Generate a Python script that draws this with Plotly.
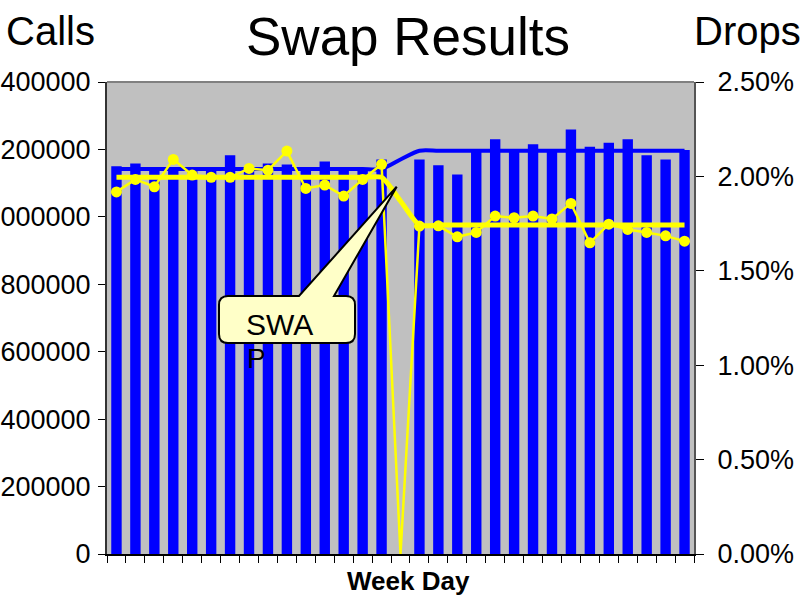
import plotly.graph_objects as go

# ---- data ----
days = [str(i) for i in range(1, 32)]
calls = [1150000, 1158000, 1142000, 1142000, 1142000, 1142000, 1183000, 1142000,
         1158000, 1155000, 1140000, 1164000, 1142000, 1142000, 1170000, 0,
         1170000, 1153000, 1126000, 1198000, 1230000, 1198000, 1215000, 1198000,
         1259000, 1208000, 1220000, 1230000, 1183000, 1170000, 1198000]
calls_avg = [1142000] * 15 + [1170000] + [1196000] * 15
drops_pct = [1.918, 1.984, 1.945, 2.090, 2.007, 1.995, 1.995, 2.042, 2.033, 2.134,
             1.936, 1.954, 1.896, 1.984, 2.064, 0.0, 1.737, 1.738, 1.680, 1.703,
             1.790, 1.781, 1.790, 1.775, 1.857, 1.648, 1.747, 1.719, 1.703, 1.685, 1.657]
drops_avg_pct = [1.995] * 15 + [1.87] + [1.742] * 15
left_ticks = [0, 200000, 400000, 600000, 800000, 1000000, 1200000, 1400000]
right_ticks = [0, 0.005, 0.010, 0.015, 0.020, 0.025]

drops = [v / 100 for v in drops_pct]
drops_avg = [v / 100 for v in drops_avg_pct]
marker_sizes = [0 if v == 0 else 11 for v in drops_pct]

W, H = 808, 596
L, R, T, B = 107, 114, 82, 42
PW, PH = W - L - R, H - T - B

def px(x):
    return (x - L) / PW

def py(y):
    return (H - B - y) / PH

FONT = "Arial, Liberation Sans, sans-serif"

fig = go.Figure()
fig.add_trace(go.Bar(x=days, y=calls, marker=dict(color="#0000FF", line=dict(width=0)),
                     yaxis="y", name="Calls"))
fig.add_trace(go.Scatter(x=days, y=calls_avg, mode="lines", yaxis="y",
                         line=dict(color="#0000FF", width=4, shape="spline", smoothing=0.8)))
fig.add_trace(go.Scatter(x=days, y=drops_avg, mode="lines", yaxis="y2",
                         line=dict(color="#FFFF00", width=5, shape="spline", smoothing=0.6)))
fig.add_trace(go.Scatter(x=days, y=drops, mode="lines+markers", yaxis="y2", opacity=1,
                         line=dict(color="#FFFF00", width=2.5),
                         marker=dict(color="#FFFF00", size=marker_sizes, opacity=1,
                                     line=dict(width=0, color="#FFFF00"))))

# callout shape
x0, x1, y0, y1, r = 219, 355, 296, 343, 9
bl, br = 299, 334
tip = (396.7, 186.7)

def P(x, y):
    return f"{px(x):.5f},{py(y):.5f}"

path = (f"M {P(x0 + r, y0)} L {P(bl, y0)} L {P(*tip)} L {P(br, y0)} L {P(x1 - r, y0)} "
        f"Q {P(x1, y0)} {P(x1, y0 + r)} L {P(x1, y1 - r)} Q {P(x1, y1)} {P(x1 - r, y1)} "
        f"L {P(x0 + r, y1)} Q {P(x0, y1)} {P(x0, y1 - r)} L {P(x0, y0 + r)} "
        f"Q {P(x0, y0)} {P(x0 + r, y0)} Z")
fig.add_shape(type="path", path=path, xref="paper", yref="paper",
              fillcolor="#FFFFC8", line=dict(color="black", width=2), layer="above")
# top border of plot area
fig.add_shape(type="line", xref="paper", yref="paper", x0=0, x1=1, y0=1, y1=1,
              line=dict(color="#808080", width=2))

annos = [
    dict(text="Swap Results", x=px(408), y=py(37), font=dict(size=53)),
    dict(text="Calls", x=px(4), y=py(31), xanchor="left", font=dict(size=40)),
    dict(text="Drops", x=px(692), y=py(31), xanchor="left", font=dict(size=40)),
    dict(text="<b>Week Day</b>", x=px(408), y=py(581), font=dict(size=26)),
    dict(text="SWA", x=px(244), y=py(324), xanchor="left", font=dict(size=30)),
    dict(text="P", x=px(245), y=py(358), xanchor="left", font=dict(size=28)),
]
for a in annos:
    a.setdefault("xanchor", "center")
    a["yanchor"] = "middle"
    a["xref"] = "paper"
    a["yref"] = "paper"
    a["showarrow"] = False
    a["font"]["family"] = FONT
    a["font"]["color"] = "black"
    fig.add_annotation(**a)

fig.update_layout(
    width=W, height=H,
    margin=dict(l=L, r=R, t=T, b=B, pad=0),
    paper_bgcolor="white", plot_bgcolor="#C0C0C0",
    showlegend=False, bargap=0.45,
    font=dict(family=FONT, color="black"),
    xaxis=dict(type="category", range=[-0.5, 30.5], tickson="boundaries", ticks="outside",
               ticklen=7, tickcolor="black", tickwidth=1, showticklabels=False,
               showline=True, linecolor="black", linewidth=1.5, showgrid=False,
               zeroline=False, automargin=False),
    yaxis=dict(range=[0, 1400000], tickvals=left_ticks, tickformat="d", ticks="outside",
               ticklen=7, tickcolor="black", showline=True, linecolor="#333333",
               linewidth=2, showgrid=False, zeroline=False, automargin=False,
               ticklabelstandoff=2,
               tickfont=dict(size=27, family=FONT, color="black")),
    yaxis2=dict(range=[0, 0.025], tickvals=right_ticks, tickformat=".2%", overlaying="y",
                side="right", ticks="outside", ticklen=8, tickcolor="black",
                showline=True, linecolor="#555555", linewidth=2, showgrid=False,
                zeroline=False, automargin=False, ticklabelstandoff=8,
                tickfont=dict(size=27, family=FONT, color="black")),
)

fig.write_html("out.html", config={"displayModeBar": False},
               post_script="document.body.style.margin='0px';document.body.style.overflow='hidden';")
